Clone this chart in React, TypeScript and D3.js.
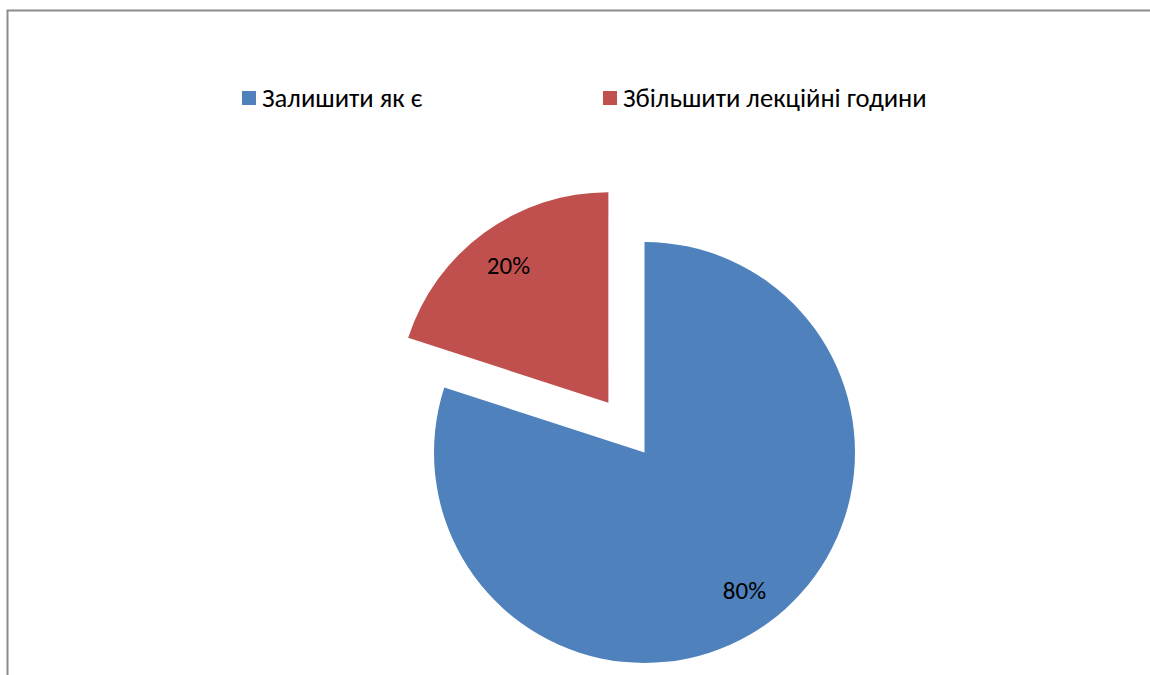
import React from "react";
import * as d3 from "d3";

const categories: string[] = ["Залишити як є", "Збільшити лекційні години"];
const values: number[] = [80, 20];
const labels: string[] = ["80%", "20%"];
const colors: string[] = ["#4F81BD", "#C0504D"];
const explode: number[] = [0, 61.5];

const W = 1150;
const H = 675;
const cx = 644.5;
const cy = 452.5;
const R = 210.5;
const labelR = 170;
const FONT = "Carlito, Lato, 'Liberation Sans', sans-serif";

export default function App() {
  const pie = d3.pie<number>().sort(null).startAngle(0).endAngle(2 * Math.PI)(values);
  const arc = d3.arc<d3.PieArcDatum<number>>().innerRadius(0).outerRadius(R);
  const legendX = [242, 603];
  return (
    <svg
      width={W}
      height={H}
      style={{ position: "fixed", left: 0, top: 0, background: "#fff" }}
      fontFamily={FONT}
    >
      <rect x={7.5} y={10.5} width={W + 10} height={H + 10} fill="#fff" stroke="#8c8c8c" strokeWidth={2} />
      {legendX.map((x, i) => (
        <g key={i}>
          <rect x={x} y={91} width={14} height={14} fill={colors[i]} />
          <text x={x + 20} y={107} fontSize={26.6} fill="#000">
            {categories[i]}
          </text>
        </g>
      ))}
      {pie.map((d, i) => {
        const mid = (d.startAngle + d.endAngle) / 2;
        const dx = Math.sin(mid) * explode[i];
        const dy = -Math.cos(mid) * explode[i];
        const lx = Math.sin(mid) * labelR;
        const ly = -Math.cos(mid) * labelR;
        return (
          <g key={i} transform={`translate(${cx + dx},${cy + dy})`}>
            <path d={arc(d) || ""} fill={colors[i]} />
            <text x={lx} y={ly} fontSize={25} textAnchor="middle" dominantBaseline="central" fill="#000">
              {labels[i]}
            </text>
          </g>
        );
      })}
    </svg>
  );
}
